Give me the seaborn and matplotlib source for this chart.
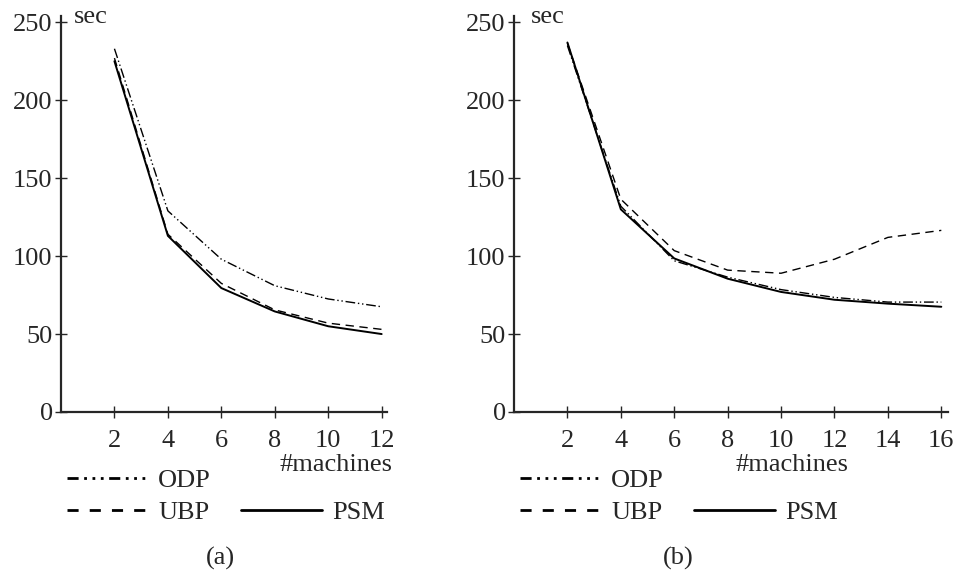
import pandas as pd
import matplotlib.pyplot as plt
import seaborn as sns
from matplotlib.lines import Line2D

# values (seconds vs number of machines)
machines_a = [2, 4, 6, 8, 10, 12]
odp_a = [233, 129, 98, 81, 72.5, 67.5]
ubp_a = [227, 114, 82.5, 65.5, 57, 53]
psm_a = [225, 113, 79.5, 64.5, 55, 50]

machines_b = [2, 4, 6, 8, 10, 12, 14, 16]
odp_b = [235, 132, 97, 86.5, 78.5, 73.5, 70.5, 70.5]
ubp_b = [236.5, 136.5, 103.5, 91, 89, 98, 112, 116.5]
psm_b = [237, 130, 98.5, 85.5, 77, 72, 69.5, 67.5]

methods = ["ODP", "UBP", "PSM"]
dashes = {"ODP": (7, 2, 1, 2, 1, 2), "UBP": (6, 4), "PSM": ""}


def long_frame(x, odp, ubp, psm):
    rows = []
    for name, vals in zip(methods, [odp, ubp, psm]):
        for xi, v in zip(x, vals):
            rows.append({"machines": xi, "sec": v, "method": name})
    return pd.DataFrame(rows)


df_a = long_frame(machines_a, odp_a, ubp_a, psm_a)
df_b = long_frame(machines_b, odp_b, ubp_b, psm_b)

sns.set_theme(style="ticks")
plt.rcParams["font.family"] = ["Liberation Serif", "DejaVu Serif"]
fs = 19

fig = plt.figure(figsize=(9.56, 5.72), dpi=100)
ax_a = fig.add_axes([61 / 956, 1 - 412 / 572, 326 / 956, 396 / 572])
ax_b = fig.add_axes([514 / 956, 1 - 412 / 572, 434 / 956, 396 / 572])

panels = [
    (ax_a, df_a, machines_a, 12.2, "(a)", 0.488, 1.018, 326),
    (ax_b, df_b, machines_b, 16.25, "(b)", 0.378, 0.77, 434),
]

for ax, df, xt, xmax, tag, tag_x, mach_x, w_px in panels:
    sns.lineplot(data=df, x="machines", y="sec", style="method", dashes=dashes,
                 color="black", linewidth=1.0, ax=ax, legend=False,
                 style_order=methods)
    # solid PSM line a bit heavier
    ax.lines[2].set_linewidth(1.4)
    ax.set_xlim(0, xmax)
    ax.set_ylim(0, 254)
    ax.set_xticks(xt)
    ax.set_yticks([0, 50, 100, 150, 200, 250])
    ax.tick_params(direction="inout", length=8, width=1, labelsize=fs)
    ax.tick_params(axis="x", pad=9)
    ax.tick_params(axis="y", pad=2)
    ax.set_xlabel("")
    ax.set_ylabel("")
    sns.despine(ax=ax)
    for side in ["left", "bottom"]:
        ax.spines[side].set_linewidth(1.6)
    ax.text(0.04, 1.025, "sec", transform=ax.transAxes, va="top", ha="left", fontsize=fs)
    ax.text(mach_x, -0.134, "#machines", transform=ax.transAxes, va="center", ha="right", fontsize=fs)
    ax.text(tag_x, -0.369, tag, transform=ax.transAxes, va="center", ha="center", fontsize=fs)

    handles = [
        Line2D([], [], color="black", lw=2, dashes=(4, 2, 1, 2, 1, 2, 1, 2)),
        Line2D([], [], color="black", lw=2, dashes=(4, 4)),
        Line2D([], [], color="none"),
        Line2D([], [], color="black", lw=2),
    ]
    labels = ["ODP", "UBP", "", "PSM"]
    ax.legend(handles, labels, ncol=2, loc="upper left",
              bbox_to_anchor=(6 / w_px, -0.143),
              frameon=False, fontsize=fs, handlelength=3.07, handletextpad=0.38,
              columnspacing=1.14, labelspacing=0.32, borderpad=0, borderaxespad=0)

fig.savefig("out.png", dpi=100)
